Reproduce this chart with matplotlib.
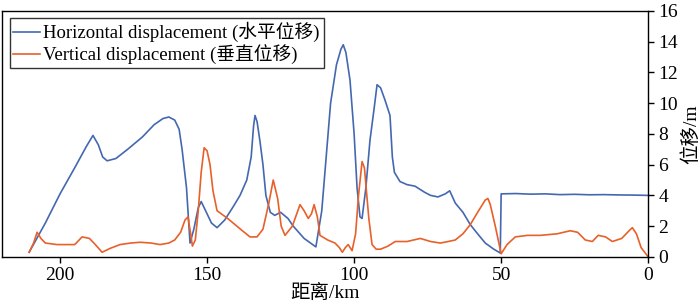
import matplotlib.pyplot as plt

plt.rcParams["font.family"] = ["Liberation Serif", "Noto Sans CJK SC"]

BLUE = "#4468b0"
ORANGE = "#e8602a"

# horizontal displacement, distance (km) and value (m)
h_km = [210.5, 205, 200, 195, 191, 188.8, 187, 185.5, 184, 181, 177, 172, 168, 165, 163,
        161, 159.5, 158.5, 157, 155.8, 154.5, 153, 152, 150.5, 148.5, 146.6, 144, 141, 138.8,
        136.5, 135, 134.2, 133.7, 133, 132, 131, 130, 128.5, 127, 125, 122.5, 120.7, 117,
        113, 111, 109.5, 108, 106, 104.5, 103.7, 102.8, 101.4, 100, 99, 98, 97.3, 96,
        94.6, 93.3, 92.2, 91, 89.5, 87.8, 87, 86.3, 84.4, 82, 79.3, 76, 74, 71.5, 69,
        67.5, 65.6, 63, 60.5, 58, 55.4, 52.5, 50.3, 50, 45, 40, 35, 30, 25, 20, 15, 10, 5, 0]
h_val = [0.3, 2.2, 4.1, 5.8, 7.2, 7.9, 7.3, 6.5, 6.25, 6.4, 7.0, 7.8, 8.6, 9.0, 9.1,
         8.9, 8.3, 7.0, 4.5, 0.9, 1.8, 3.2, 3.6, 3.0, 2.2, 1.9, 2.4, 3.3, 4.0,
         5.0, 6.5, 8.5, 9.2, 8.8, 7.5, 6.0, 4.0, 2.9, 2.7, 2.9, 2.5, 2.0, 1.2,
         0.65, 3.0, 6.5, 10.0, 12.5, 13.5, 13.8, 13.3, 11.5, 8.0, 4.5, 2.6, 2.5, 4.5,
         7.6, 9.5, 11.2, 11.0, 10.2, 9.2, 6.5, 5.5, 4.9, 4.7, 4.6, 4.2, 4.0, 3.9, 4.1,
         4.3, 3.5, 2.9, 2.1, 1.5, 0.9, 0.5, 0.25, 4.1, 4.12, 4.08, 4.1, 4.05, 4.07, 4.04, 4.05, 4.03, 4.02, 4.0]

# vertical displacement
v_km = [210.5, 209, 207.8, 206.5, 205, 201, 198, 195, 192.5, 190, 188, 185.7, 183, 179.6,
        176, 172.8, 169, 166, 163, 161, 159, 157.5, 156.5, 155.5, 155, 154, 153, 152, 151,
        150, 149, 148, 146.6, 143, 140.5, 138, 135.4, 133, 131, 129, 127.5, 126, 124.8,
        123.5, 121, 118.4, 117, 115.6, 114.5, 113.6, 112.5, 111.6, 109, 106.5, 105, 104,
        103, 102, 100.7, 99.5, 98.5, 97.3, 96.5, 96, 95, 93.9, 92.5, 91, 88.5, 86, 82, 77.5,
        74, 70.7, 68, 65.6, 63, 60.5, 58, 55.4, 54.5, 53.7, 52, 50, 48, 45.2, 41, 36.7, 31,
        26.5, 24, 21.4, 19, 17, 14.5, 12.2, 9, 6.5, 5.4, 4, 2.4, 0]
v_val = [0.3, 0.9, 1.6, 1.2, 0.9, 0.8, 0.8, 0.8, 1.3, 1.2, 0.8, 0.3, 0.55, 0.8,
         0.9, 0.95, 0.9, 0.8, 0.9, 1.1, 1.6, 2.4, 2.6, 1.4, 0.7, 1.1, 3.0, 5.5, 7.1,
         6.9, 6.0, 4.3, 3.0, 2.5, 2.1, 1.7, 1.3, 1.3, 1.8, 3.5, 5.0, 3.8, 2.0,
         1.4, 2.0, 3.4, 3.0, 2.5, 2.8, 3.4, 2.6, 1.4, 1.1, 0.9, 0.6, 0.3,
         0.6, 0.8, 0.4, 1.5, 4.0, 6.2, 5.8, 4.7, 2.5, 0.8, 0.5, 0.5, 0.7, 1.0, 1.0, 1.2,
         1.0, 0.9, 1.0, 1.1, 1.5, 2.1, 2.9, 3.7, 3.8, 3.4, 2.0, 0.2, 0.8, 1.3, 1.4, 1.4, 1.5,
         1.7, 1.6, 1.1, 1.0, 1.4, 1.3, 1.0, 1.2, 1.7, 1.9, 1.5, 0.6, 0.0]

fig = plt.figure(figsize=(7, 3.04), dpi=100)
ax = fig.add_axes([0.003, 0.155, 0.923, 0.809])

ax.plot(h_km, h_val, color=BLUE, lw=1.2, label="Horizontal displacement (水平位移)")
ax.plot(v_km, v_val, color=ORANGE, lw=1.2, label="Vertical displacement (垂直位移)")

ax.set_xlim(219.7, 0)
ax.set_ylim(0, 16)
ax.set_xticks([200, 150, 100, 50, 0])
ax.set_yticks(range(0, 17, 2))
ax.yaxis.tick_right()
ax.yaxis.set_label_position("right")
ax.tick_params(labelsize=14, direction="out", length=4, width=1)
ax.set_xlabel("距离/km", fontsize=14, labelpad=0)
ax.set_ylabel("位移/m", fontsize=14, labelpad=2)
for s in ax.spines.values():
    s.set_linewidth(1.0)

leg = ax.legend(loc="upper left", fontsize=13.5, frameon=True, fancybox=False,
                edgecolor="black", handlelength=1.4, handletextpad=0.2,
                borderpad=0.2, labelspacing=0.1, borderaxespad=0.4)
leg.get_frame().set_linewidth(1.0)

fig.savefig("out.png", dpi=100)
